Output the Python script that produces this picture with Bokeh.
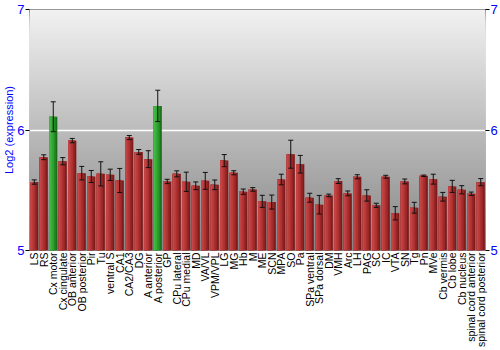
import math
from bokeh.plotting import figure
from bokeh.models import ColumnDataSource, FactorRange, FixedTicker, LinearAxis, Whisker, TeeHead, Title
from bokeh.transform import dodge
from bokeh.embed import file_html
from bokeh.resources import INLINE

regions = ["LS", "RS", "Cx motor", "Cx cingulate", "OB anterior", "OB posterior", "Pir", "Tu",
           "ventral S", "CA1", "CA2/CA3", "DG", "A anterior", "A posterior", "GP", "CPu lateral",
           "CPu medial", "MD", "VA/VL", "VPM/VPL", "LG", "MG", "Hb", "M", "ME", "SCN", "MPA", "SO",
           "Pa", "SPa ventral", "SPa dorsal", "DM", "VMH", "Arc", "LH", "PAG", "SC", "IC", "VTA",
           "SN", "Tg", "Pn", "MVe", "Cb vermis", "Cb lobe", "Cb nucleus", "spinal cord anterior",
           "spinal cord posterior"]
values = [5.568, 5.774, 6.11, 5.741, 5.912, 5.642, 5.614, 5.636,
          5.628, 5.581, 5.937, 5.818, 5.758, 6.20, 5.573, 5.636,
          5.570, 5.537, 5.578, 5.545, 5.746, 5.645, 5.488, 5.507, 5.408, 5.402, 5.589, 5.799,
          5.716, 5.438, 5.380, 5.457, 5.576, 5.474, 5.612, 5.457, 5.375, 5.612, 5.309,
          5.573, 5.355, 5.620, 5.592, 5.446, 5.532, 5.504, 5.471,
          5.567]
errors = [0.018, 0.02, 0.124, 0.03, 0.018, 0.056, 0.05, 0.10,
          0.047, 0.10, 0.017, 0.02, 0.07, 0.13, 0.018, 0.025,
          0.08, 0.032, 0.07, 0.04, 0.05, 0.017, 0.022, 0.015, 0.05, 0.058, 0.044, 0.116,
          0.073, 0.037, 0.077, 0.011, 0.02, 0.02, 0.017, 0.047, 0.017, 0.012, 0.055,
          0.02, 0.045, 0.006, 0.041, 0.036, 0.05, 0.034, 0.014,
          0.03]
highlight = ["Cx motor", "A posterior"]
y_ticks = [5, 6, 7]
y_min, y_max = 5, 7
y_title = "Log2 (expression)"

FONT = "Liberation Sans"
BLUE = "#0000ff"

red_layers = ["#7e1a1a", "#982626", "#ad3030", "#bb3a3a", "#c44646"]
green_layers = ["#1b6f1b", "#238a23", "#2e9f2e", "#37ae37", "#44b944"]
fracs = [1.0, 0.8, 0.6, 0.4, 0.2]
W = 0.86

data = dict(regions=regions, values=values,
            upper=[v + e for v, e in zip(values, errors)],
            lower=[v - e for v, e in zip(values, errors)])
for k in range(len(fracs)):
    data["c%d" % k] = [green_layers[k] if r in highlight else red_layers[k] for r in regions]
src = ColumnDataSource(data)

p = figure(width=500, height=350, x_range=FactorRange(factors=regions, range_padding=0),
           y_range=(y_min, y_max), output_backend="svg", toolbar_location=None,
           min_border_left=0, min_border_right=0, min_border_top=9, min_border_bottom=0)

# background gradient (layered, lightest/tallest first)
nb = 80
tops, cols = [], []
for i in range(nb):
    t = y_max - (y_max - y_min) * i / nb
    frac = i / (nb - 1)
    g = int(round(241 - frac * (241 - 134)))
    tops.append(t)
    cols.append("#%02x%02x%02x" % (g, g, g))
bg = ColumnDataSource(dict(left=[0] * nb, right=[len(regions)] * nb, bottom=[y_min] * nb, top=tops, c=cols))
p.quad(left="left", right="right", bottom="bottom", top="top", fill_color="c", line_color=None,
       source=bg, level="image")

for k, f in enumerate(fracs):
    off = -W / 2 + W * f / 2
    p.vbar(x=dodge("regions", off, range=p.x_range), width=W * f, bottom=y_min, top="values",
           fill_color="c%d" % k, line_color=None, source=src)

wh = Whisker(source=src, base="regions", upper="upper", lower="lower", line_color="#111111",
             line_width=1, level="overlay",
             upper_head=TeeHead(size=5, line_color="#111111", line_width=1),
             lower_head=TeeHead(size=5, line_color="#111111", line_width=1))
p.add_layout(wh)

p.xgrid.grid_line_color = None
p.ygrid.ticker = FixedTicker(ticks=y_ticks)
p.ygrid.grid_line_color = "white"
p.ygrid.grid_line_width = 1.5

p.outline_line_color = "#7a7a7a"
p.outline_line_width = 1

ax = p.yaxis[0]
ax.ticker = FixedTicker(ticks=y_ticks)

ra = LinearAxis(ticker=FixedTicker(ticks=y_ticks))
p.add_layout(ra, "right")
for a in [ax, ra]:
    a.major_label_text_color = BLUE
    a.major_label_text_font = FONT
    a.major_label_text_font_size = "13px"
    a.major_label_standoff = 1
    a.major_tick_out = 4
    a.major_tick_in = 0
    a.major_tick_line_color = "black"
    a.minor_tick_line_color = None
    a.axis_line_color = None

ttl = Title(text=y_title, align="center", text_font=FONT, text_font_size="11px",
            text_font_style="normal", text_color=BLUE, standoff=0, offset=0)
p.add_layout(ttl, "left")

xa = p.xaxis[0]
xa.major_label_orientation = math.pi / 2
xa.major_label_text_font = FONT
xa.major_label_text_font_size = "10.5px"
xa.major_label_text_color = "black"
xa.major_label_standoff = 2
xa.major_tick_out = 0
xa.major_tick_in = 0
xa.axis_label_standoff = 0
xa.major_tick_line_color = None
xa.minor_tick_line_color = None
xa.axis_line_color = None

open("out.html", "w").write(file_html(p, INLINE))
